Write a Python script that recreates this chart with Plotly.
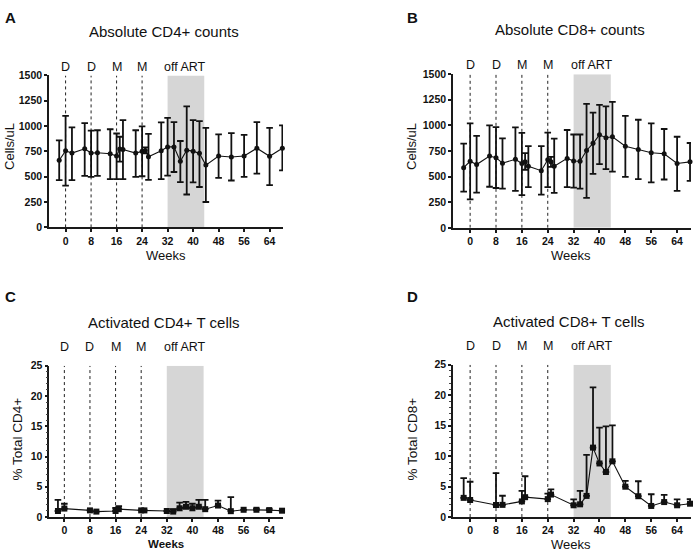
import plotly.graph_objects as go

W, H = 694, 557

# ---------------- data ----------------
weeks_abs = [-2, 0, 2, 6, 8, 10, 14, 16, 17, 18, 22, 24, 25, 26, 30, 32, 34, 36, 38, 40, 42, 44, 48, 52, 56, 60, 64, 68]
cd4_mean = [663, 756, 734, 776, 734, 737, 727, 705, 773, 769, 734, 753, 760, 698, 756, 795, 795, 653, 763, 753, 731, 615, 705, 695, 705, 782, 702, 782]
cd4_upper = [860, 1101, 988, 1030, 956, 959, 969, 927, 895, 1059, 959, 998, 790, 924, 1037, 1082, 1040, 853, 1195, 1059, 1050, 982, 918, 930, 914, 1040, 982, 1008]
cd4_lower = [467, 412, 467, 508, 499, 508, 476, 476, 650, 476, 499, 505, 730, 470, 476, 512, 547, 447, 325, 444, 399, 251, 489, 463, 499, 531, 418, 563]

cd8_mean = [587, 650, 618, 701, 685, 631, 669, 628, 644, 600, 558, 665, 644, 602, 678, 653, 650, 755, 825, 908, 879, 889, 797, 765, 733, 723, 628, 644]
cd8_upper = [822, 1019, 898, 1000, 984, 873, 981, 927, 730, 797, 797, 930, 692, 870, 955, 911, 911, 1210, 1124, 1201, 1185, 1230, 1093, 1055, 1019, 965, 889, 828]
cd8_lower = [354, 277, 344, 401, 389, 382, 360, 319, 567, 398, 325, 398, 596, 341, 398, 392, 382, 293, 526, 621, 573, 548, 497, 475, 443, 472, 360, 459]

weeks_act = [-2, 0, 8, 10, 16, 17, 24, 25, 32, 34, 36, 38, 40, 42, 44, 48, 52, 56, 60, 64, 68]
act4_mean = [1.0, 1.4, 1.1, 0.9, 1.0, 1.3, 1.1, 1.1, 1.0, 0.9, 1.45, 1.7, 1.45, 1.7, 1.3, 1.9, 0.97, 1.2, 1.2, 1.15, 1.05]
act4_upper = [2.85, 2.2, 1.1, 0.9, 1.5, 1.8, 1.1, 1.1, 1.0, 1.3, 2.4, 2.5, 2.2, 2.85, 2.85, 2.7, 3.3, 1.2, 1.4, 1.35, 1.05]
act8_mean = [3.15, 2.8, 1.98, 2.0, 2.57, 3.26, 2.94, 3.69, 1.93, 2.09, 3.47, 11.4, 8.8, 7.4, 9.15, 4.98, 3.42, 1.82, 2.46, 1.93, 2.19]
act8_upper = [6.4, 5.8, 7.2, 3.5, 4.3, 6.7, 3.85, 4.55, 2.9, 4.3, 10.2, 21.3, 14.7, 14.9, 15.05, 5.94, 5.88, 3.74, 3.63, 2.9, 2.94]

x_ticks = [0, 8, 16, 24, 32, 40, 48, 56, 64]
abs_ticks = [0, 250, 500, 750, 1000, 1250, 1500]
act_ticks = [0, 5, 10, 15, 20, 25]
event_weeks = [0, 8, 16, 24]
event_labels = ["D", "D", "M", "M"]
off_art = (32, 43.5)

panels = [
    dict(key="", label="A", title="Absolute CD4+ counts", ytitle="Cells/uL",
         x=weeks_abs, m=cd4_mean, up=cd4_upper, lo=cd4_lower, ymax=1500, yt=abs_ticks,
         dom=(49, 283, 71, 226.3), xr=(-5.2, 68.2), marker="circle"),
    dict(key="2", label="B", title="Absolute CD8+ counts", ytitle="Cells/uL",
         x=weeks_abs, m=cd8_mean, up=cd8_upper, lo=cd8_lower, ymax=1500, yt=abs_ticks,
         dom=(453, 691, 69.7, 226.7), xr=(-5.3, 68.3), marker="circle"),
    dict(key="3", label="C", title="Activated CD4+ T cells", ytitle="% Total CD4+",
         x=weeks_act, m=act4_mean, up=act4_upper, lo=None, ymax=25, yt=act_ticks,
         dom=(49.3, 283, 367.7, 522.3), xr=(-4.7, 68.3), marker="square"),
    dict(key="4", label="D", title="Activated CD8+ T cells", ytitle="% Total CD8+",
         x=weeks_act, m=act8_mean, up=act8_upper, lo=None, ymax=25, yt=act_ticks,
         dom=(453, 691, 366.7, 522.3), xr=(-5.3, 68.3), marker="square"),
]

FONT = "Liberation Sans, Arial, sans-serif"
fig = go.Figure()
shapes, annotations = [], []
layout = {}


def px(x):
    return x / W


def py(y):
    return 1 - y / H


for p in panels:
    k = p["key"]
    xa, ya = "x" + k, "y" + k
    up = [u - m for u, m in zip(p["up"], p["m"])]
    if p["lo"] is not None:
        dn = [m - l for m, l in zip(p["m"], p["lo"])]
    else:
        dn = [0] * len(p["m"])
    fig.add_trace(go.Scatter(
        x=p["x"], y=p["m"], xaxis=xa, yaxis=ya, mode="lines+markers",
        line=dict(color="#111", width=1.1),
        marker=dict(symbol=p["marker"], size=5 if p["marker"] == "circle" else 6, color="#111"),
        error_y=dict(type="data", symmetric=False, array=up, arrayminus=dn,
                     color="#111", thickness=1.8, width=3.3),
        showlegend=False, hoverinfo="skip", cliponaxis=False))
    x0, x1, y0, y1 = p["dom"]
    layout["xaxis" + k] = dict(
        domain=[px(x0), px(x1)], range=list(p["xr"]), anchor=ya,
        tickvals=x_ticks, ticktext=[str(t) for t in x_ticks],
        showline=True, linecolor="#1a1a1a", linewidth=1.5,
        ticks="outside", ticklen=3, tickwidth=1.5, tickcolor="#1a1a1a",
        tickfont=dict(family=FONT, size=10.5, color="#111", weight="bold"),
        showgrid=False, zeroline=False, fixedrange=True)
    yax = dict(
        domain=[py(y1), py(y0)], range=[0, p["ymax"]], anchor=xa,
        tickvals=p["yt"], ticktext=[str(t) for t in p["yt"]],
        showline=True, linecolor="#1a1a1a", linewidth=1.5,
        ticks="outside", ticklen=3, tickwidth=1.5, tickcolor="#1a1a1a",
        tickfont=dict(family=FONT, size=10.5, color="#111", weight="bold"),
        showgrid=False, zeroline=False, fixedrange=True)
    if p["ymax"] == 25:
        yax["minor"] = dict(dtick=1, ticks="outside", ticklen=2, tickwidth=1, tickcolor="#444")
    layout["yaxis" + k] = yax

    # shaded off-ART window
    shapes.append(dict(type="rect", xref=xa, yref=ya, x0=off_art[0], x1=off_art[1],
                       y0=0, y1=p["ymax"], fillcolor="#d6d6d6", line=dict(width=0), layer="below"))
    # dotted event lines
    for w in event_weeks:
        shapes.append(dict(type="line", xref=xa, yref=ya, x0=w, x1=w, y0=0, y1=p["ymax"],
                           line=dict(color="#222", width=1, dash="dot"), layer="below"))
    # event labels
    lab_y = y0 - (9 if p["ymax"] == 1500 else 19)
    for w, t in zip(event_weeks, event_labels):
        annotations.append(dict(text=t, xref=xa, yref="paper", x=w, y=py(lab_y),
                                showarrow=False, xanchor="center", yanchor="middle",
                                font=dict(family=FONT, size=12.5, color="#111")))
    annotations.append(dict(text="off ART", xref=xa, yref="paper", x=37.6, y=py(lab_y),
                            showarrow=False, xanchor="center", yanchor="middle",
                            font=dict(family=FONT, size=12.5, color="#111")))

# titles and labels (pixel positions)
texts = [
    ("A", 10, 12, 15, "bold", 0), ("B", 412, 12, 15, "bold", 0),
    ("C", 10, 297, 15, "bold", 0), ("D", 412, 297, 15, "bold", 0),
    ("Absolute CD4+ counts", 164, 26, 15, "normal", 0),
    ("Absolute CD8+ counts", 570, 24, 15, "normal", 0),
    ("Activated CD4+ T cells", 164, 323, 15, "normal", 0),
    ("Activated CD8+ T cells", 569, 322, 15, "normal", 0),
    ("Weeks", 166, 255, 13, "normal", 0), ("Weeks", 571, 255, 13, "normal", 0),
    ("Weeks", 166, 550, 11.5, "bold", 0), ("Weeks", 571, 550, 13, "normal", 0),
    ("Cells/uL", 10, 144, 13, "normal", -90), ("Cells/uL", 412, 144, 13, "normal", -90),
    ("% Total CD4+", 17, 443, 13.5, "normal", -90), ("% Total CD8+", 412, 443, 13.5, "normal", -90),
]
for t, x, y, s, wt, ang in texts:
    annotations.append(dict(text=t, xref="paper", yref="paper", x=px(x), y=py(y),
                            showarrow=False, xanchor="center", yanchor="middle", textangle=ang,
                            font=dict(family=FONT, size=s, color="#111", weight=wt)))

fig.update_layout(
    width=W, height=H, margin=dict(l=0, r=0, t=0, b=0),
    paper_bgcolor="white", plot_bgcolor="white",
    shapes=shapes, annotations=annotations, showlegend=False,
    font=dict(family=FONT), **layout)

fig.write_html("out.html", config={"displayModeBar": False},
               post_script="document.body.style.margin='0px';document.body.style.padding='0px';")
